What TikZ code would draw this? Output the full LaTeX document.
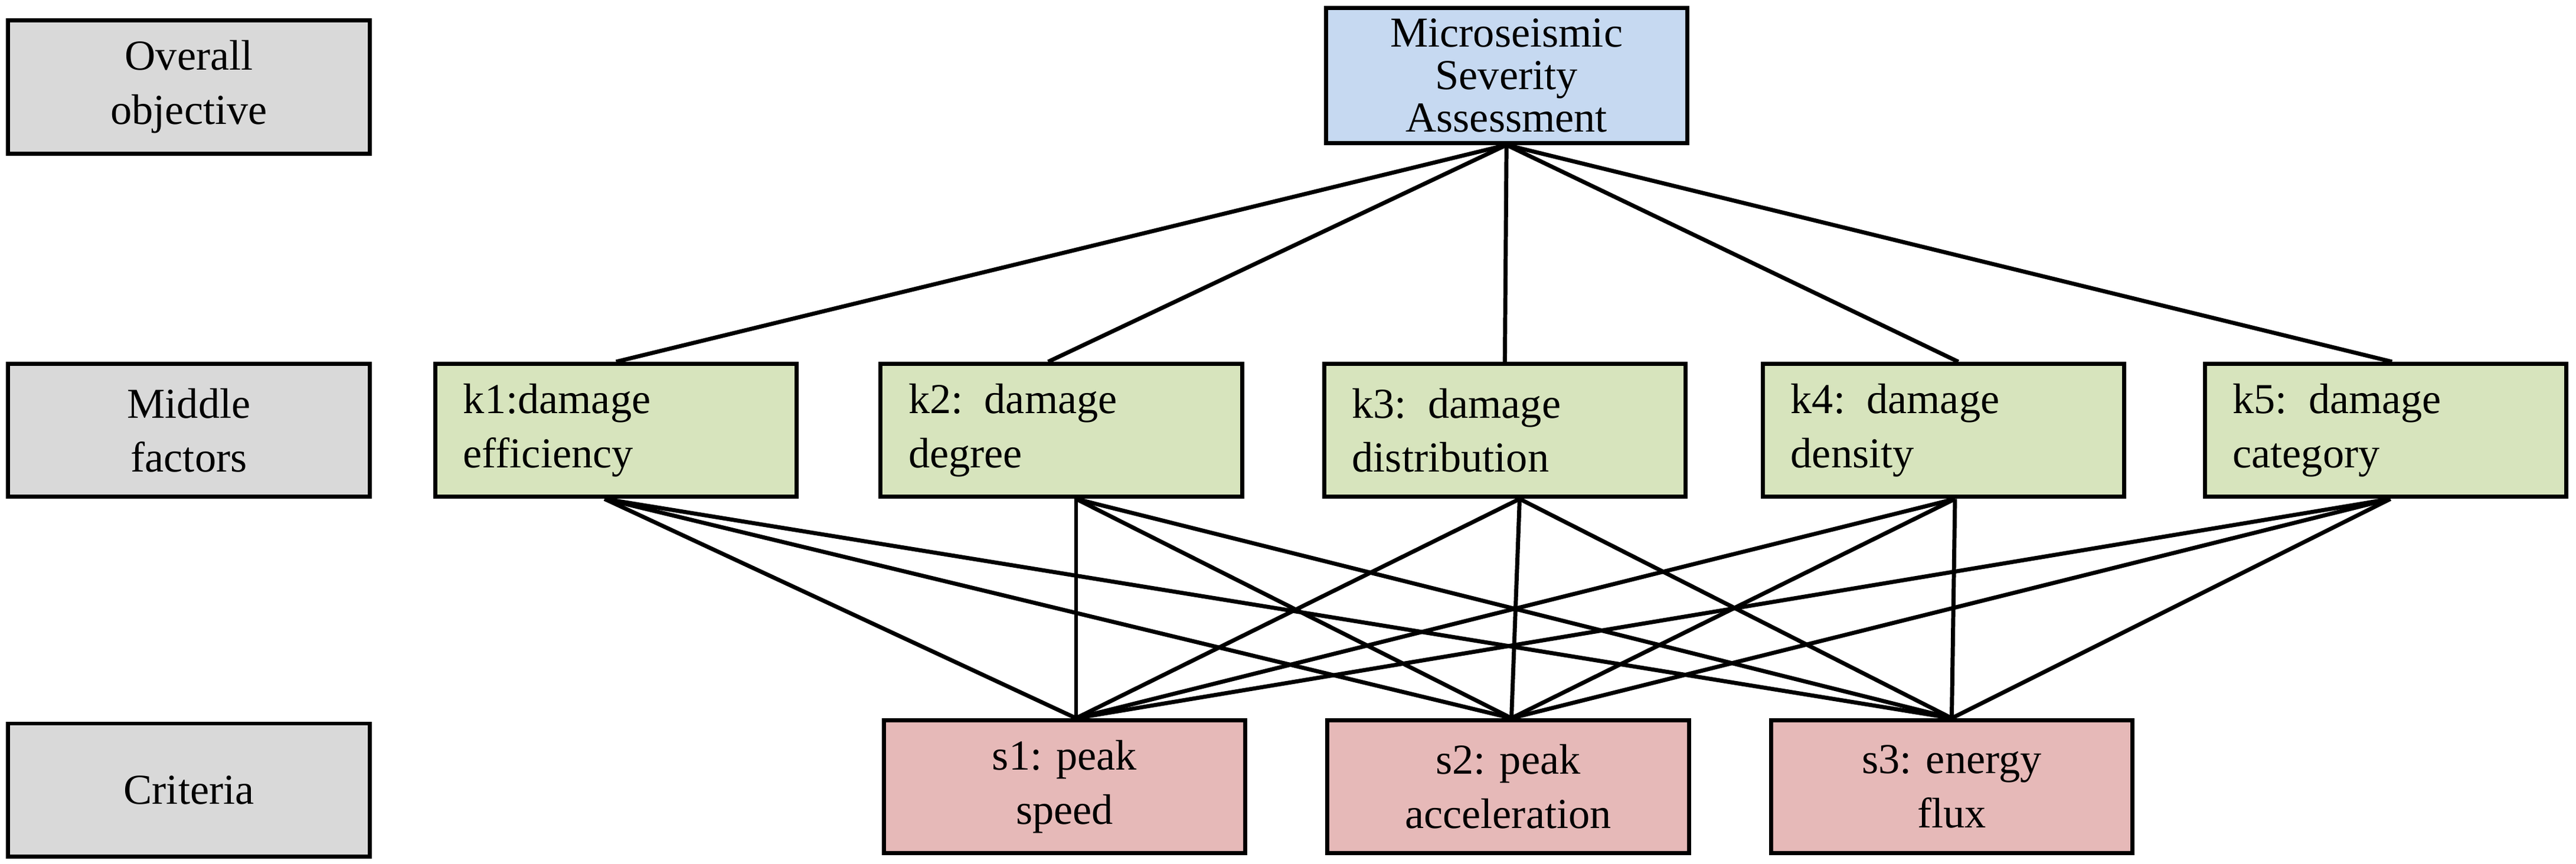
\documentclass[tikz,border=0pt]{standalone}
\usepackage{fontspec}
\setmainfont{Liberation Serif}
\definecolor{cgray}{HTML}{D9D9D9}
\definecolor{cblue}{HTML}{C6D9F1}
\definecolor{cgreen}{HTML}{D7E4BD}
\definecolor{cred}{HTML}{E6B9B8}
\begin{document}
\begin{tikzpicture}[x=1pt,y=-1pt,
  box/.style={draw=black,line width=2.5pt,minimum width=220pt,minimum height=81pt,inner sep=0pt,font=\fontsize{26}{33}\selectfont,align=center},
  gbox/.style={box,fill=cgray},
  mbox/.style={box,fill=cgreen,align=left,text width=186pt},
  sbox/.style={box,fill=cred},
  ln/.style={line width=2.5pt}]
\useasboundingbox (0,0) rectangle (1568,526);
\node[gbox] (l1) at (115,53) {Overall\\objective};
\node[gbox] (l2) at (115,262) {Middle\\factors};
\node[gbox] (l3) at (115,481) {Criteria};
\node[box,fill=cblue,minimum height=82pt,font=\fontsize{26}{26}\selectfont] (t) at (917,46) {Microseismic\\Severity\\Assessment};
\node[mbox] (k1) at (375,262) {k1:damage\\efficiency};
\node[mbox] (k2) at (646,262) {k2: damage\\degree};
\node[mbox] (k3) at (916,262) {k3: damage\\distribution};
\node[mbox] (k4) at (1183,262) {k4: damage\\density};
\node[mbox] (k5) at (1452,262) {k5: damage\\category};
\node[sbox] (s1) at (648,479) {s1: peak\\speed};
\node[sbox] (s2) at (918,479) {s2: peak\\acceleration};
\node[sbox] (s3) at (1188,479) {s3: energy\\flux};
\draw[ln] (t.south) -- (k1.north);
\draw[ln] (t.south) -- ([xshift=-8pt]k2.north);
\draw[ln] (t.south) -- (k3.north);
\draw[ln] (t.south) -- ([xshift=9pt]k4.north);
\draw[ln] (t.south) -- ([xshift=4pt]k5.north);
\foreach \k/\dx in {k1/-7,k2/9,k3/9,k4/7,k5/3}{
  \draw[ln] ([xshift=\dx pt]\k.south) -- ([xshift=7pt]s1.north);
  \draw[ln] ([xshift=\dx pt]\k.south) -- ([xshift=2pt]s2.north);
  \draw[ln] ([xshift=\dx pt]\k.south) -- (s3.north);
}
\end{tikzpicture}
\end{document}
